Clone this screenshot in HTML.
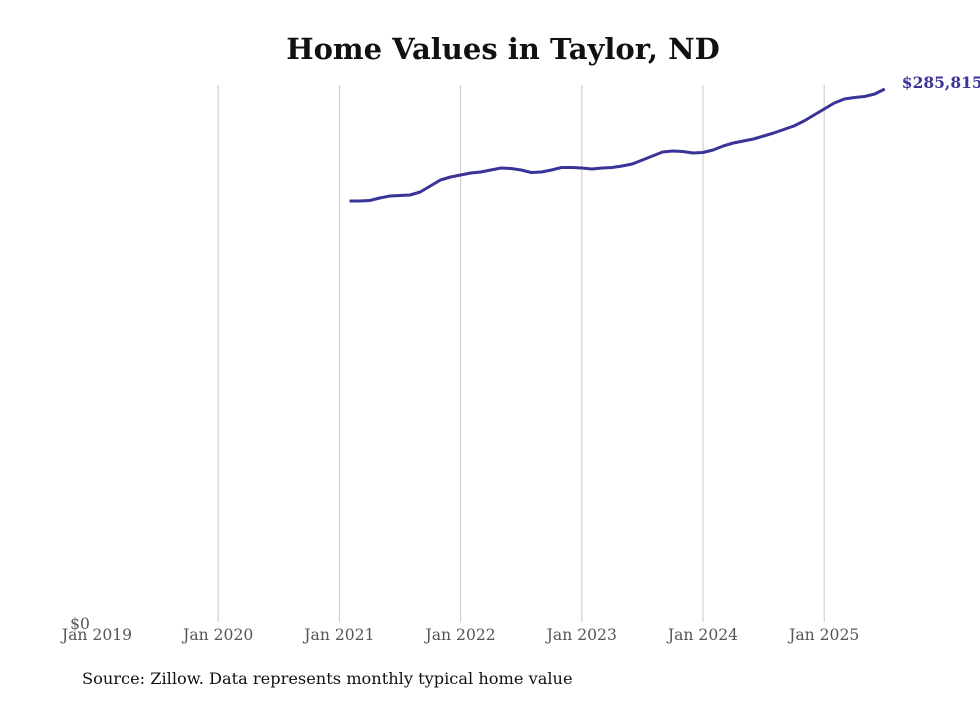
<!DOCTYPE html>
<html><head><meta charset="utf-8"><style>
body{margin:0;background:#fff;width:980px;height:699px;overflow:hidden;font-family:"DejaVu Serif","Liberation Serif",serif;}
</style></head><body>
<svg width="980" height="699">
<text x="503" y="59" text-anchor="middle" font-size="29" font-weight="bold" fill="#111">Home Values in Taylor, ND</text>
<g id="grid"></g>
<g id="xticks"></g>
<text x="80" y="629" text-anchor="middle" font-size="15.5" fill="#555">$0</text>
<path id="line" fill="none" stroke="#3a3398" stroke-width="3" stroke-linejoin="round"/>
<text id="endlabel" font-size="15.5" font-weight="bold" fill="#3a3398"></text>
<text x="82" y="684" font-size="16.2" fill="#111">Source: Zillow. Data represents monthly typical home value</text>
</svg>
<script>
const tickYears=[2019,2020,2021,2022,2023,2024,2025];
const tickLabels=["Jan 2019","Jan 2020","Jan 2021","Jan 2022","Jan 2023","Jan 2024","Jan 2025"];
const startYear=2021, startMonth=1; // Feb 2021 (0-based month)
const values=[225750,225750,226020,227360,228430,228700,228960,230570,233790,237010,238620,
239690,240760,241290,242370,243440,243170,242370,241020,241290,242370,243710,243710,
243440,242910,243440,243710,244510,245590,247730,249880,252030,252560,252290,251490,
251760,253090,255240,256850,257920,258990,260600,262210,264090,265960,268640,271860,
275080,278290,280440,281250,281780,283120,285815];
const ns="http://www.w3.org/2000/svg";
const xS=t=>97+(t-2019)*121.2;
const yS=v=>622-v*533/285815;
const grid=document.getElementById('grid'), xt=document.getElementById('xticks');
tickYears.forEach((y,i)=>{
  if(i>0){const l=document.createElementNS(ns,'line');
  l.setAttribute('x1',xS(y));l.setAttribute('x2',xS(y));l.setAttribute('y1',85);l.setAttribute('y2',622);
  l.setAttribute('stroke','#c8c8c8');l.setAttribute('stroke-width','1');
  
  
  grid.appendChild(l);}
  const t=document.createElementNS(ns,'text');
  t.setAttribute('x',xS(y));t.setAttribute('y',640);t.setAttribute('text-anchor','middle');
  t.setAttribute('font-size','15.6');t.setAttribute('fill','#555');
  t.textContent=tickLabels[i];
  
  
  xt.appendChild(t);
});
let d='';
values.forEach((v,i)=>{const t=startYear+(startMonth+i)/12;d+=(i?'L':'M')+xS(t).toFixed(1)+','+yS(v).toFixed(1);});
document.getElementById('line').setAttribute('d',d);
const last=values[values.length-1], lt=startYear+(startMonth+values.length-1)/12;
const el=document.getElementById('endlabel');
el.setAttribute('x',xS(lt)+17);el.setAttribute('y',yS(last)-1);
el.textContent='$'+last.toLocaleString('en-US');
</script>
</body></html>
